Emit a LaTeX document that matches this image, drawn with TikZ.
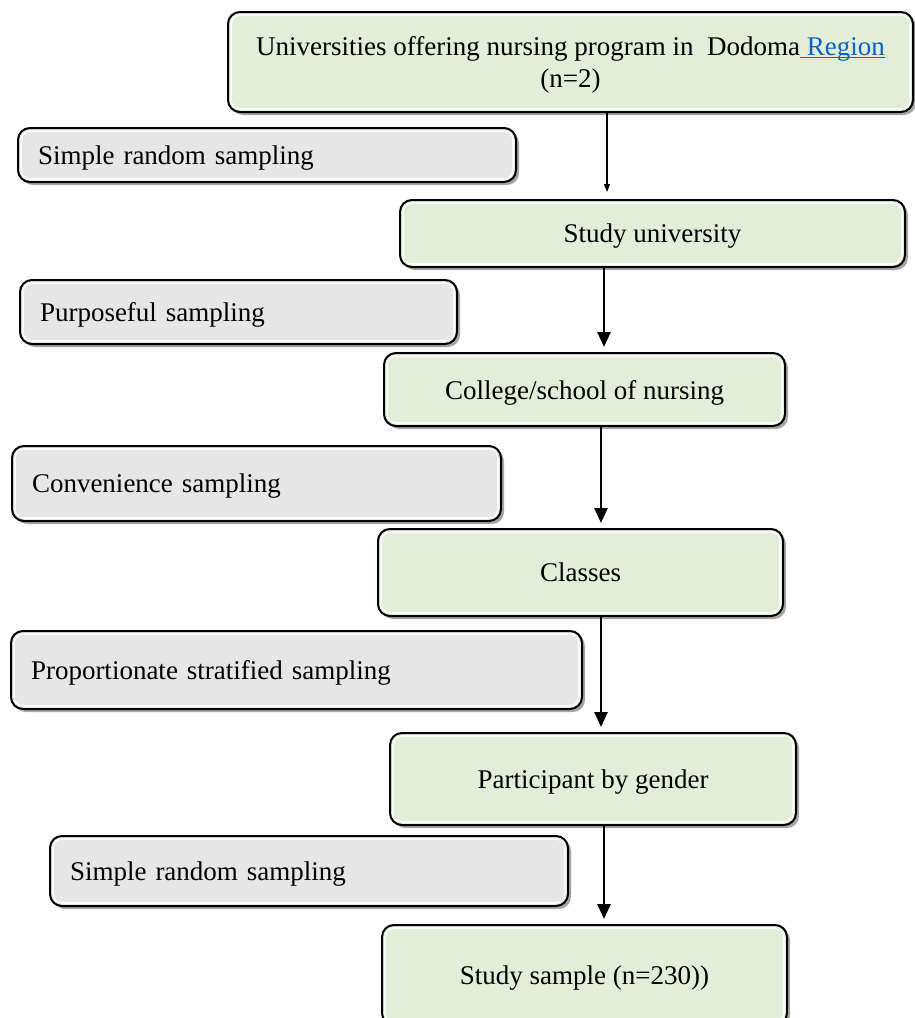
\documentclass[tikz,border=0pt]{standalone}
\usepackage{fontspec}
\setmainfont{Liberation Serif}
\usetikzlibrary{shadows,arrows.meta,calc}
\definecolor{boxgreen}{RGB}{226,238,218}
\definecolor{boxgray}{RGB}{230,230,230}
\definecolor{linkblue}{RGB}{5,99,193}
\newsavebox{\linkbox}
\newcommand{\linkul}[1]{\sbox{\linkbox}{#1}\rlap{\rule[-2.5pt]{\wd\linkbox}{1pt}}\usebox{\linkbox}}
\tikzset{
  base/.style={draw=black, line width=2pt, rounded corners=12pt,
    font=\fontsize{27}{32}\selectfont, inner sep=0pt, text depth=0pt,
    drop shadow={shadow xshift=3pt, shadow yshift=-3pt, opacity=0.35, fill=black},
    path picture={\draw[white, opacity=0.8, line width=1.6pt, rounded corners=9pt]
      ($(path picture bounding box.south west)+(3,-3)$) rectangle
      ($(path picture bounding box.north east)+(-3,3)$);}},
  greenbox/.style={base, fill=boxgreen, align=center},
  graybox/.style={base, fill=boxgray, align=left, inner xsep=20pt},
  thinarr/.style={line width=1.3pt, -{Triangle[length=8pt,width=6pt]}, shorten >=7pt},
  thickarr/.style={line width=2.6pt, -{Triangle[length=15pt,width=13pt]}, shorten >=5pt},
}
\begin{document}
\begin{tikzpicture}[x=1pt,y=-1pt]
\useasboundingbox (0,0) rectangle (915,1018);
\clip (0,0) rectangle (915,1018);
% green flow boxes
\node[greenbox, minimum width=685pt, minimum height=100pt] (top) at (570.5,62)
  {Universities offering nursing program in\ \ Dodoma{\color{linkblue}\linkul{\ Region}}\\(n=2)};
\node[greenbox, minimum width=505pt, minimum height=67pt] (su) at (652.5,233.5) {Study university};
\node[greenbox, minimum width=401pt, minimum height=73pt] (csn) at (584.5,389.5) {College/school of nursing};
\node[greenbox, minimum width=405pt, minimum height=87pt] (cl) at (580.5,572.5) {Classes};
\node[greenbox, minimum width=406pt, minimum height=92pt] (pg) at (593,779) {Participant by gender};
\node[greenbox, minimum width=405pt, minimum height=100pt] (ss) at (584.5,975) {Study sample (n=230))};
% gray method boxes
\node[graybox, text width=458pt, minimum height=54pt] (m1) at (267,155) {Simple random sampling};
\node[graybox, text width=397pt, minimum height=64pt] (m2) at (238.5,312) {Purposeful sampling};
\node[graybox, text width=449pt, minimum height=75pt] (m3) at (256.5,483.5) {Convenience sampling};
\node[graybox, text width=531pt, minimum height=78pt] (m4) at (296.5,670) {Proportionate stratified sampling};
\node[graybox, text width=478pt, minimum height=70pt] (m5) at (309,871) {Simple random sampling};
% arrow columns
\coordinate (c1) at (607,0);
\coordinate (c2) at (604,0);
\coordinate (c3) at (601,0);
\coordinate (c4) at (601,0);
\coordinate (c5) at (604,0);
\draw[thinarr] (top.south -| c1) -- (su.north -| c1);
\draw[thickarr] (su.south -| c2) -- (csn.north -| c2);
\draw[thickarr] (csn.south -| c3) -- (cl.north -| c3);
\draw[thickarr] (cl.south -| c4) -- (pg.north -| c4);
\draw[thickarr] (pg.south -| c5) -- (ss.north -| c5);
\end{tikzpicture}
\end{document}
